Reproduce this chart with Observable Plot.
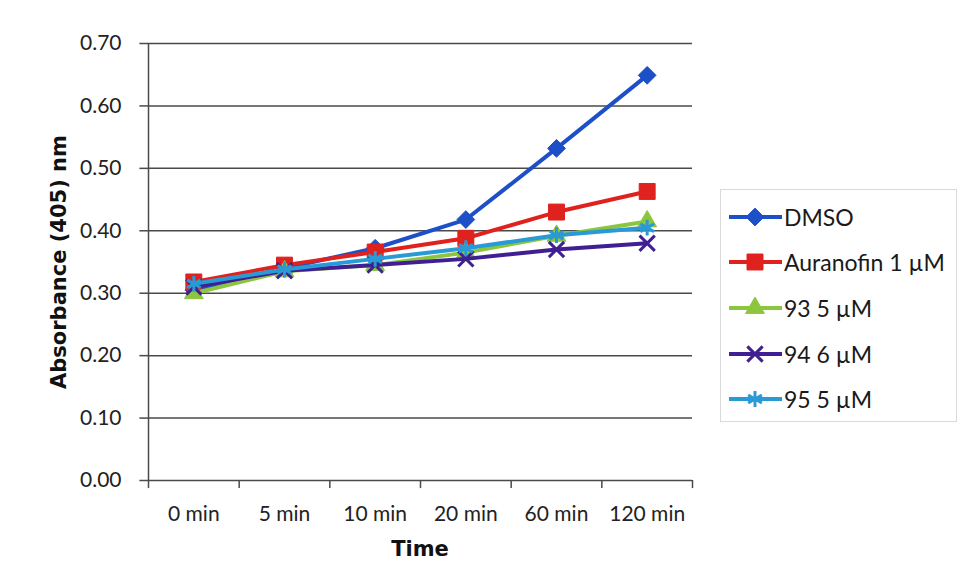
<!DOCTYPE html>
<html>
<head>
<meta charset="utf-8">
<script src="https://cdn.jsdelivr.net/npm/d3@7"></script>
<script src="https://cdn.jsdelivr.net/npm/@observablehq/plot@0.6"></script>
<style>
  html, body { margin: 0; padding: 0; background: #fff; }
  #wrap { position: relative; width: 963px; height: 588px; background: #fff; font-family: Lato, "Liberation Sans", sans-serif; overflow: hidden; }
  #legend { position: absolute; left: 720px; top: 189px; width: 237px; height: 233px; box-sizing: border-box; border: 1px solid #d9d9d9; background: #fff; }
  .item { position: absolute; left: 6px; height: 28px; display: flex; align-items: center; font-size: 23px; color: #1a1a1a; white-space: nowrap; }
  .item svg { margin-right: 1px; flex: none; }
  .atitle { position: absolute; font-family: "DejaVu Sans", Verdana, sans-serif; font-weight: bold; font-size: 21px; color: #111; white-space: nowrap; }
</style>
</head>
<body>
<div id="wrap">
  <div id="chart"></div>
  <div id="legend"></div>
</div>
<script>
const categories = ["0 min", "5 min", "10 min", "20 min", "60 min", "120 min"];
const seriesNames = ["DMSO", "Auranofin 1 \u00b5M", "93 5 \u00b5M", "94 6 \u00b5M", "95 5 \u00b5M"];
const dmso      = [0.305, 0.340, 0.372, 0.418, 0.532, 0.649];
const auranofin = [0.318, 0.345, 0.366, 0.388, 0.430, 0.463];
const c93       = [0.300, 0.335, 0.345, 0.365, 0.392, 0.415];
const c94       = [0.310, 0.336, 0.345, 0.355, 0.370, 0.380];
const c95       = [0.315, 0.338, 0.355, 0.372, 0.393, 0.405];
const yTicks = [0, 0.1, 0.2, 0.3, 0.4, 0.5, 0.6, 0.7];

const seriesValues = [dmso, auranofin, c93, c94, c95];
const colors = ["#1d4fc8", "#e0221f", "#8cc63e", "#3f1f92", "#2a9ad6"];
const symbols = ["diamond2", "square", "triangle", "times", "asterisk"];
const symFilled = [true, true, true, false, false];
const symR = [8, 9, 7, 7, 7.5];

const idx = categories.map((c, i) => i);
const bounds = d3.range(categories.length + 1).map(i => i - 0.5);
const axisColor = "#4a4a4a";

const marks = [
  Plot.ruleY(yTicks, {stroke: axisColor, strokeWidth: 1.5}),
  Plot.ruleX([bounds[0]], {stroke: axisColor, strokeWidth: 1.5}),
  Plot.ruleX(bounds, {x: d => d, y1: 0, y2: -0.013, stroke: axisColor, strokeWidth: 1.5}),
  Plot.ruleY(yTicks, {y: d => d, x1: bounds[0] - 0.095, x2: bounds[0], stroke: axisColor, strokeWidth: 1.5})
];

seriesValues.forEach((vals, s) => {
  const data = vals.map((v, i) => ({i, v}));
  marks.push(Plot.line(data, {x: "i", y: "v", stroke: colors[s], strokeWidth: 4}));
  marks.push(Plot.dot(data, {
    x: "i", y: "v", symbol: () => symbols[s], r: symR[s],
    fill: symFilled[s] ? colors[s] : "none",
    stroke: colors[s], strokeWidth: symFilled[s] ? 1 : 3
  }));
});

const chart = Plot.plot({
  width: 700,
  height: 588,
  marginLeft: 148,
  marginRight: 8,
  marginTop: 43,
  marginBottom: 108,
  style: {fontFamily: "Lato, 'Liberation Sans', sans-serif", fontSize: "21px", color: "#222", background: "transparent", overflow: "visible"},
  x: {domain: [bounds[0], bounds[bounds.length - 1]], ticks: idx, tickFormat: i => categories[i], tickSize: 0, tickPadding: 26, label: null},
  y: {domain: [0, 0.7], ticks: yTicks, tickFormat: d3.format(".2f"), tickSize: 0, tickPadding: 27, label: null},
  symbol: {type: "identity"},
  marks
});
document.getElementById("chart").appendChild(chart);

// axis titles
const wrap = document.getElementById("wrap");
const yt = document.createElement("div");
yt.className = "atitle";
yt.textContent = "Absorbance (405) nm";
yt.style.left = "59px"; yt.style.top = "262px";
yt.style.transform = "translate(-50%, -50%) rotate(-90deg)";
wrap.appendChild(yt);
const xt = document.createElement("div");
xt.className = "atitle";
xt.textContent = "Time";
xt.style.left = "420px"; xt.style.top = "549px";
xt.style.transform = "translate(-50%, -50%)";
wrap.appendChild(xt);

// legend
const legend = document.getElementById("legend");
const centers = [27, 72, 118, 164, 209];
const symMap = {diamond2: d3.symbolDiamond2, square: d3.symbolSquare, triangle: d3.symbolTriangle, times: d3.symbolTimes, asterisk: d3.symbolAsterisk};
seriesNames.forEach((name, s) => {
  const item = document.createElement("div");
  item.className = "item";
  item.style.top = (centers[s] - 14) + "px";
  const svg = d3.create("svg").attr("width", 56).attr("height", 28);
  svg.append("line").attr("x1", 2).attr("x2", 55).attr("y1", 14).attr("y2", 14)
    .attr("stroke", colors[s]).attr("stroke-width", 4);
  svg.append("path")
    .attr("d", d3.symbol(symMap[symbols[s]], Math.PI * symR[s] * symR[s])())
    .attr("transform", "translate(28,14)")
    .attr("fill", symFilled[s] ? colors[s] : "none")
    .attr("stroke", colors[s]).attr("stroke-width", symFilled[s] ? 1 : 3);
  item.appendChild(svg.node());
  const t = document.createElement("span");
  t.textContent = name;
  item.appendChild(t);
  legend.appendChild(item);
});
</script>
</body>
</html>
